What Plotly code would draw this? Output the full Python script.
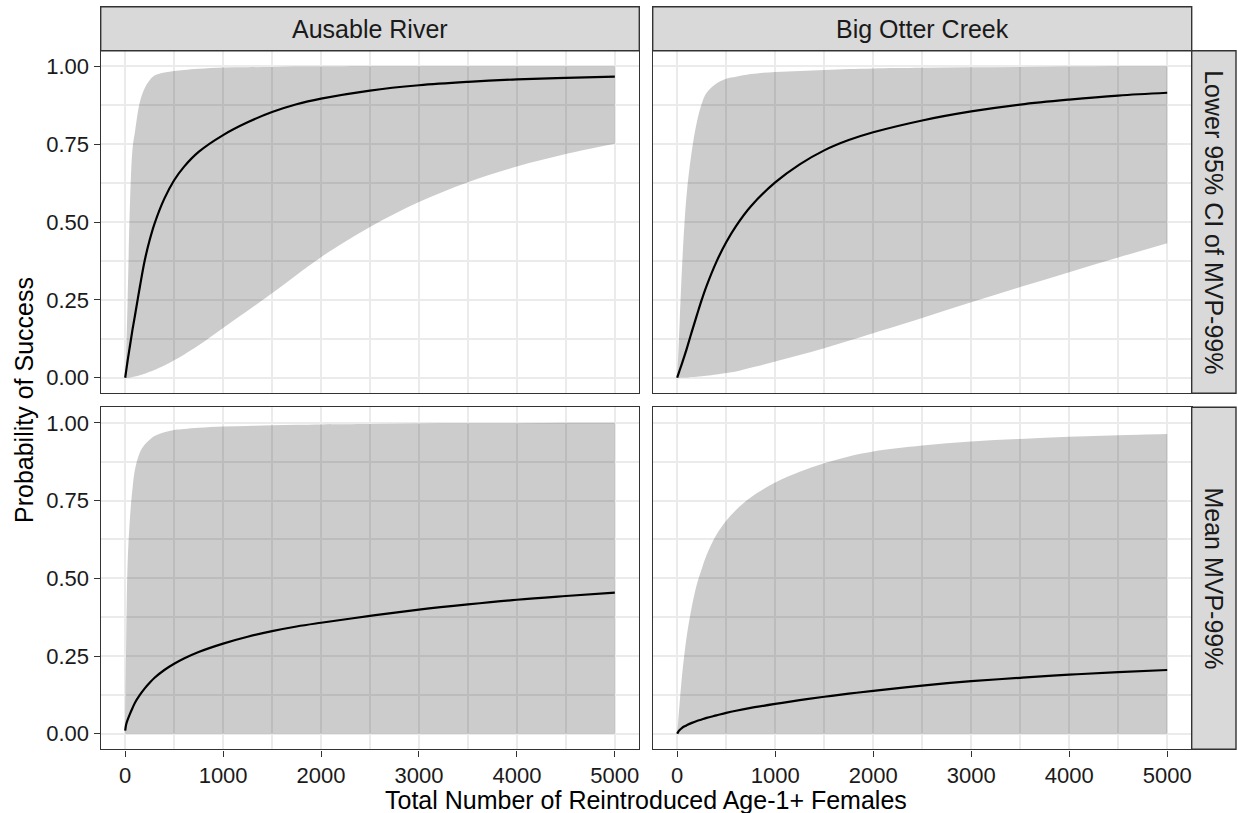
import plotly.graph_objects as go

# ---------------- data ----------------
X = [0, 10, 25, 50, 75, 100, 150, 200, 250, 300, 400, 500, 600, 750, 1000,
     1250, 1500, 1750, 2000, 2500, 3000, 3500, 4000, 4500, 5000]

# Ausable River / Lower 95% CI of MVP-99%
ar_low_mean = [0, 0.022, 0.055, 0.105, 0.155, 0.2, 0.292, 0.377, 0.442, 0.495, 0.575,
               0.634, 0.677, 0.725, 0.779, 0.82, 0.853, 0.878, 0.896, 0.922, 0.939,
               0.95, 0.958, 0.963, 0.967]
ar_low_upper = [0, 0.08, 0.25, 0.57, 0.735, 0.79, 0.885, 0.93, 0.955, 0.97, 0.98,
                0.985, 0.988, 0.992, 0.996, 0.997, 0.998, 0.999, 0.999, 1.0, 1.0,
                1.0, 1.0, 1.0, 1.0]
ar_low_lower = [0, 0, 0, 0.001, 0.002, 0.004, 0.008, 0.013, 0.019, 0.025, 0.039,
                0.056, 0.074, 0.104, 0.16, 0.215, 0.271, 0.33, 0.387, 0.484, 0.564,
                0.628, 0.678, 0.718, 0.751]

# Big Otter Creek / Lower 95% CI of MVP-99%
bo_low_mean = [0, 0.01, 0.024, 0.047, 0.071, 0.096, 0.149, 0.2, 0.25, 0.295, 0.372,
               0.435, 0.487, 0.55, 0.627, 0.685, 0.73, 0.763, 0.788, 0.826, 0.855,
               0.877, 0.893, 0.906, 0.915]
bo_low_upper = [0, 0.07, 0.18, 0.36, 0.5, 0.6, 0.73, 0.82, 0.88, 0.915, 0.945,
                0.96, 0.966, 0.975, 0.982, 0.985, 0.988, 0.991, 0.993, 0.995, 0.997,
                0.998, 0.999, 1.0, 1.0]
bo_low_lower = [0, 0, 0, 0.0005, 0.001, 0.001, 0.002, 0.003, 0.0045, 0.006, 0.01,
                0.015, 0.02, 0.032, 0.052, 0.073, 0.095, 0.119, 0.143, 0.192, 0.242,
                0.291, 0.339, 0.386, 0.432]

# Ausable River / Mean MVP-99%
ar_mean_mean = [0.01, 0.03, 0.045, 0.065, 0.083, 0.1, 0.125, 0.146, 0.164, 0.18, 0.205,
                0.225, 0.242, 0.263, 0.29, 0.312, 0.33, 0.345, 0.357, 0.379, 0.399,
                0.416, 0.431, 0.443, 0.454]
ar_mean_upper = [0, 0.3, 0.55, 0.7, 0.79, 0.85, 0.905, 0.93, 0.946, 0.958, 0.97,
                 0.977, 0.98, 0.984, 0.988, 0.99, 0.992, 0.994, 0.995, 0.996, 0.998,
                 0.999, 0.999, 1.0, 1.0]
ar_mean_lower = [0] * len(X)

# Big Otter Creek / Mean MVP-99%
bo_mean_mean = [0, 0.006, 0.012, 0.019, 0.024, 0.028, 0.035, 0.041, 0.046, 0.051, 0.059,
                0.067, 0.074, 0.083, 0.096, 0.108, 0.119, 0.129, 0.138, 0.155, 0.169,
                0.18, 0.19, 0.198, 0.205]
bo_mean_upper = [0, 0.04, 0.1, 0.19, 0.26, 0.32, 0.41, 0.48, 0.53, 0.575, 0.64,
                 0.685, 0.72, 0.76, 0.808, 0.843, 0.87, 0.892, 0.908, 0.927, 0.94,
                 0.948, 0.955, 0.96, 0.964]
bo_mean_lower = [0] * len(X)

col_labels = ["Ausable River", "Big Otter Creek"]
row_labels = ["Lower 95% CI of MVP-99%", "Mean MVP-99%"]
x_ticks = [0, 1000, 2000, 3000, 4000, 5000]
y_ticks = [0, 0.25, 0.5, 0.75, 1.0]
y_ticktext = ["0.00", "0.25", "0.50", "0.75", "1.00"]

panels = [
    # (axis suffix, mean, upper, lower)
    ("", ar_low_mean, ar_low_upper, ar_low_lower),
    ("2", bo_low_mean, bo_low_upper, bo_low_lower),
    ("3", ar_mean_mean, ar_mean_upper, ar_mean_lower),
    ("4", bo_mean_mean, bo_mean_upper, bo_mean_lower),
]

# ---------------- layout geometry (pixels) ----------------
W, H = 1238, 813
px_left = [(100.7, 639.3), (652.7, 1191.7)]
px_rows = [(50.7, 393.3), (407.3, 749.3)]   # top, bottom in screen px
strip_top = (6.7, 50.7)
strip_right = (1191.7, 1236.0)

FONT = "Liberation Sans, Arial, sans-serif"
GRID = "#EBEBEB"
BORDER = "#333333"
SM = 1.0

fig = go.Figure()

for suf, mean, upper, lower in panels:
    xa = "x" + suf
    ya = "y" + suf
    fig.add_trace(go.Scatter(x=X, y=lower, mode="lines", xaxis=xa, yaxis=ya,
                             line=dict(width=0, shape="spline", smoothing=SM),
                             hoverinfo="skip", showlegend=False))
    fig.add_trace(go.Scatter(x=X, y=upper, mode="lines", xaxis=xa, yaxis=ya,
                             fill="tonexty", fillcolor="rgba(0,0,0,0.2)",
                             line=dict(width=0, shape="spline", smoothing=SM),
                             hoverinfo="skip", showlegend=False))
    fig.add_trace(go.Scatter(x=X, y=mean, mode="lines", xaxis=xa, yaxis=ya,
                             line=dict(color="black", width=2.2, shape="spline", smoothing=SM),
                             showlegend=False))

layout = dict(
    width=W, height=H,
    margin=dict(l=0, r=0, t=0, b=0),
    paper_bgcolor="white", plot_bgcolor="white",
    font=dict(family=FONT, color="#1a1a1a"),
    showlegend=False,
)

for i, suf in enumerate(["", "2", "3", "4"]):
    r, c = divmod(i, 2)
    x0, x1 = px_left[c]
    yt, yb = px_rows[r]
    xname = "xaxis" + suf
    yname = "yaxis" + suf
    bottom = (r == 1)
    left = (c == 0)
    layout[xname] = dict(
        domain=[x0 / W, x1 / W], anchor="y" + suf,
        range=[-250, 5250], tickvals=x_ticks,
        showgrid=True, gridcolor=GRID, gridwidth=2,
        minor=dict(tickvals=[500, 1500, 2500, 3500, 4500], showgrid=True,
                   gridcolor=GRID, gridwidth=1.5, ticks=""),
        showline=True, mirror=True, linecolor=BORDER, linewidth=1.4,
        zeroline=False,
        ticks="outside" if bottom else "", ticklen=6, tickwidth=1.4, tickcolor=BORDER,
        showticklabels=bottom,
        tickfont=dict(size=22, color="#1a1a1a", family=FONT),
        fixedrange=True,
    )
    layout[yname] = dict(
        domain=[1 - yb / H, 1 - yt / H], anchor="x" + suf,
        range=[-0.05, 1.05], tickvals=y_ticks, ticktext=y_ticktext,
        showgrid=True, gridcolor=GRID, gridwidth=2,
        minor=dict(tickvals=[0.125, 0.375, 0.625, 0.875], showgrid=True,
                   gridcolor=GRID, gridwidth=1.5, ticks=""),
        showline=True, mirror=True, linecolor=BORDER, linewidth=1.4,
        zeroline=False,
        ticks="outside" if left else "", ticklen=6, tickwidth=1.4, tickcolor=BORDER,
        showticklabels=left,
        tickfont=dict(size=22, color="#1a1a1a", family=FONT),
        fixedrange=True,
    )

shapes = []
annotations = []
# top strips
for c, lab in enumerate(col_labels):
    x0, x1 = px_left[c]
    shapes.append(dict(type="rect", xref="paper", yref="paper",
                       x0=x0 / W, x1=x1 / W,
                       y0=1 - strip_top[1] / H, y1=1 - strip_top[0] / H,
                       fillcolor="#D9D9D9", line=dict(color=BORDER, width=1.4),
                       layer="above"))
    annotations.append(dict(text=lab, xref="paper", yref="paper",
                            x=(x0 + x1) / 2 / W, y=1 - (strip_top[0] + strip_top[1]) / 2 / H,
                            showarrow=False, xanchor="center", yanchor="middle",
                            font=dict(size=25, color="#1a1a1a", family=FONT)))
# right strips
for r, lab in enumerate(row_labels):
    yt, yb = px_rows[r]
    shapes.append(dict(type="rect", xref="paper", yref="paper",
                       x0=strip_right[0] / W, x1=strip_right[1] / W,
                       y0=1 - yb / H, y1=1 - yt / H,
                       fillcolor="#D9D9D9", line=dict(color=BORDER, width=1.4),
                       layer="above"))
    annotations.append(dict(text=lab, xref="paper", yref="paper",
                            x=(strip_right[0] + strip_right[1]) / 2 / W,
                            y=1 - (yt + yb) / 2 / H, textangle=90,
                            showarrow=False, xanchor="center", yanchor="middle",
                            font=dict(size=25, color="#1a1a1a", family=FONT)))
# axis titles
annotations.append(dict(text="Total Number of Reintroduced Age-1+ Females",
                        xref="paper", yref="paper",
                        x=(px_left[0][0] + px_left[1][1]) / 2 / W, y=1 - 800 / H,
                        showarrow=False, xanchor="center", yanchor="middle",
                        font=dict(size=25, color="black", family=FONT)))
annotations.append(dict(text="Probability of Success",
                        xref="paper", yref="paper",
                        x=24 / W, y=1 - (px_rows[0][0] + px_rows[1][1]) / 2 / H,
                        textangle=-90,
                        showarrow=False, xanchor="center", yanchor="middle",
                        font=dict(size=25, color="black", family=FONT)))

layout["shapes"] = shapes
layout["annotations"] = annotations
fig.update_layout(**layout)

fig.write_html("out.html")
